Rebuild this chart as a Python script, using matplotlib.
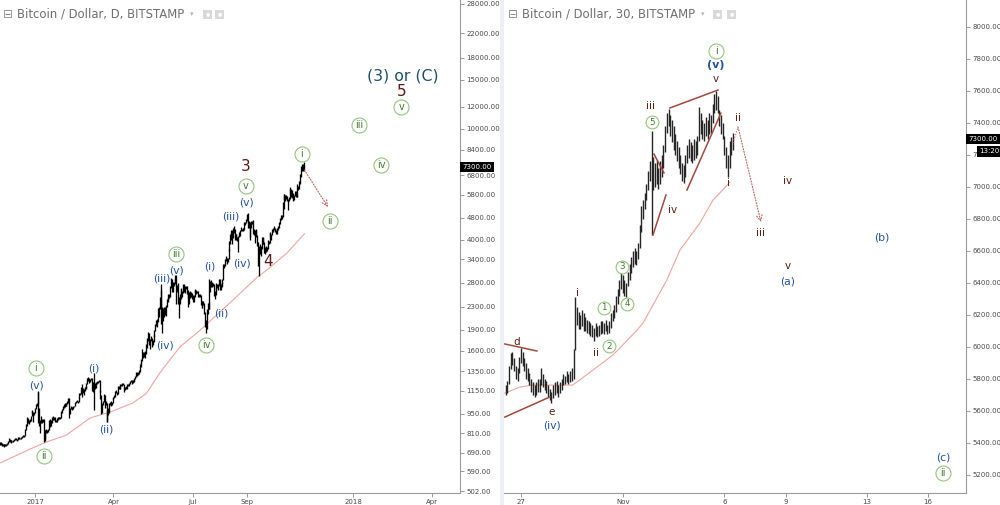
import numpy as np
import pandas as pd
import matplotlib
matplotlib.use("Agg")
import matplotlib.pyplot as plt
import matplotlib.transforms as mtrans
from matplotlib.patches import Rectangle

# ---------------- data: daily BTC/USD (Bitstamp), left panel ----------------
DAILY_START = "2016-11-22"
daily_high = [
    # Nov 22-30 2016
    752, 750, 745, 742, 740, 738, 740, 738, 746,
    # Dec 2016
    756, 780, 772, 768, 765, 762, 768, 772, 775, 776, 772, 780, 785, 782, 780, 786, 792, 795, 795, 800,
    835, 870, 925, 918, 900, 910, 935, 975, 980, 965, 965,
    # Jan 2017
    1000, 1030, 1040, 1150, 1140, 1000, 900, 930, 910, 910, 910, 830, 830, 835, 830, 835, 905, 910, 900, 900,
    925, 935, 925, 925, 900, 920, 925, 925, 925, 925, 970,
    # Feb
    990, 1010, 1030, 1040, 1035, 1040, 1055, 1080, 1080, 1000, 1010, 1005, 1005, 1015, 1015, 1045, 1060, 1065, 1060, 1090,
    1125, 1130, 1185, 1210, 1175, 1165, 1185, 1200,
    # Mar
    1225, 1275, 1285, 1280, 1270, 1280, 1275, 1240, 1210, 1330, 1230, 1235, 1245, 1250, 1255, 1260, 1155, 1105, 1040, 1060,
    1120, 1110, 1055, 1040, 980, 1000, 1040, 1050, 1055, 1045, 1080,
    # Apr
    1095, 1105, 1150, 1160, 1140, 1200, 1200, 1195, 1215, 1215, 1225, 1225, 1215, 1190, 1195, 1190, 1210, 1220, 1230, 1250,
    1260, 1255, 1255, 1255, 1275, 1300, 1345, 1345, 1340, 1360,
    # May
    1430, 1460, 1490, 1620, 1580, 1580, 1600, 1690, 1740, 1770, 1860, 1850, 1760, 1800, 1770, 1750, 1840, 1900, 1990, 2060,
    2080, 2280, 2290, 2500, 2770, 2650, 2300, 2280, 2300, 2300, 2340,
    # Jun
    2450, 2500, 2560, 2560, 2720, 2920, 2890, 2820, 2830, 2900, 3000, 2990, 2750, 2790, 2500, 2550, 2670, 2680, 2620, 2770,
    2780, 2720, 2740, 2720, 2640, 2600, 2600, 2620, 2600, 2570,
    # Jul
    2530, 2530, 2630, 2660, 2650, 2620, 2620, 2560, 2560, 2540, 2420, 2420, 2420, 2370, 2200, 2060, 2260, 2380, 2400, 2900,
    2840, 2860, 2830, 2800, 2780, 2620, 2680, 2800, 2780, 2780, 2880,
    # Aug
    2900, 2780, 2820, 2880, 3270, 3280, 3420, 3500, 3430, 3450, 3700, 3970, 4200, 4330, 4350, 4400, 4480, 4380, 4200, 4200,
    4100, 4130, 4250, 4350, 4450, 4380, 4400, 4400, 4630, 4640, 4750,
    # Sep
    4940, 4980, 4680, 4620, 4480, 4660, 4680, 4700, 4380, 4320, 4320, 4380, 4150, 3920, 3800, 3870, 3800, 4100, 4100, 4050,
    3920, 3780, 3800, 3780, 3980, 3960, 4220, 4250, 4200, 4360,
    # Oct
    4400, 4460, 4420, 4340, 4360, 4420, 4460, 4620, 4800, 4900, 4900, 5440, 5850, 5850, 5800, 5800, 5760, 5600, 5700, 6100,
    6180, 6080, 6040, 5900, 5800, 6000, 5990, 5850, 6330, 6250, 6470,
    # Nov 1-6
    6880, 7350, 7490, 7500, 7600, 7340,
]
daily_low = [
    735, 732, 728, 730, 725, 726, 730, 728, 732,
    742, 752, 755, 758, 748, 752, 755, 760, 765, 768, 762, 765, 772, 770, 770, 774, 780, 786, 785, 788,
    795, 830, 858, 880, 870, 888, 895, 930, 955, 890, 940,
    955, 990, 1015, 1030, 880, 860, 810, 880, 880, 885, 750, 760, 770, 810, 810, 815, 828, 855, 860, 880,
    890, 900, 905, 885, 885, 890, 905, 915, 910, 910, 915,
    960, 980, 1000, 1005, 1010, 1015, 1030, 1040, 920, 950, 990, 990, 980, 990, 1005, 1010, 1035, 1050, 1040, 1045,
    1080, 1105, 1120, 1090, 1125, 1105, 1150, 1170,
    1180, 1215, 1250, 1230, 1235, 1255, 1150, 1140, 1150, 980, 1170, 1180, 1220, 1225, 1240, 1140, 1070, 950, 960, 1020,
    1050, 1000, 1020, 890, 890, 940, 960, 1020, 1015, 1020, 1035,
    1070, 1080, 1090, 1130, 1110, 1120, 1170, 1170, 1170, 1195, 1200, 1205, 1140, 1155, 1170, 1170, 1175, 1195, 1200, 1215,
    1235, 1215, 1225, 1235, 1245, 1270, 1285, 1300, 1305, 1320,
    1340, 1400, 1440, 1470, 1500, 1520, 1510, 1560, 1640, 1700, 1740, 1680, 1620, 1730, 1650, 1670, 1720, 1790, 1880, 1960,
    1950, 2030, 2120, 2250, 2250, 2000, 1850, 2050, 2120, 2150, 2130,
    2300, 2400, 2420, 2470, 2500, 2680, 2600, 2600, 2720, 2770, 2850, 2350, 2600, 2350, 2100, 2350, 2450, 2500, 2500, 2580,
    2600, 2580, 2660, 2550, 2480, 2300, 2350, 2480, 2500, 2460,
    2390, 2400, 2500, 2570, 2560, 2570, 2490, 2490, 2490, 2330, 2280, 2270, 2330, 2160, 1950, 1850, 1920, 2170, 2260, 2250,
    2600, 2700, 2700, 2720, 2520, 2450, 2530, 2650, 2680, 2640, 2730,
    2650, 2650, 2700, 2770, 2860, 3170, 3220, 3350, 3260, 3320, 3400, 3640, 3850, 4000, 3850, 4050, 4230, 4000, 4000, 4050,
    3960, 3600, 4080, 4130, 4300, 4300, 4320, 4300, 4350, 4500, 4590,
    4680, 4400, 4420, 4100, 4000, 4400, 4560, 4180, 4150, 3900, 4130, 4100, 3800, 3220, 2970, 3550, 3500, 3700, 3850, 3860,
    3580, 3560, 3600, 3630, 3700, 3870, 3900, 4110, 4000, 4150,
    4260, 4350, 4250, 4180, 4180, 4300, 4350, 4400, 4560, 4720, 4730, 4820, 5150, 5550, 5500, 5600, 5500, 5100, 5520, 5600,
    5900, 5700, 5640, 5500, 5550, 5720, 5700, 5700, 5700, 6050, 6100,
    6310, 6700, 7040, 7025, 7300, 7060,
]

# 100-period moving average
ma_daily_dates = ["2016-11-22", "2016-12-29", "2017-01-14", "2017-02-06", "2017-03-05", "2017-03-28",
                  "2017-04-23", "2017-05-09", "2017-05-24", "2017-06-16", "2017-07-09", "2017-08-16",
                  "2017-09-13", "2017-09-24", "2017-10-17", "2017-11-06"]
ma_daily_vals = [633, 716, 752, 797, 917, 964, 1038, 1127, 1330, 1648, 1890, 2430, 2940, 3115, 3584, 4200]

# ---------------- data: 2-hour bars, right panel ----------------
INTRA_START = "2017-10-26 06:00"
intra_high = [
    # Oct 26 06-22
    5760, 5790, 5880, 5960, 5970, 5930, 5880, 5870, 5940,
    # Oct 27
    5995, 5970, 5930, 5900, 5870, 5840, 5800, 5780, 5760, 5780, 5800, 5800,
    # Oct 28
    5870, 5830, 5800, 5790, 5760, 5740, 5720, 5760, 5780, 5790, 5760, 5780,
    # Oct 29
    5800, 5830, 5820, 5850, 5830, 5850, 5870, 5990, 6310, 6250, 6220, 6200,
    # Oct 30
    6230, 6210, 6190, 6170, 6160, 6150, 6140, 6120, 6150, 6130, 6140, 6160,
    # Oct 31
    6160, 6150, 6170, 6140, 6160, 6210, 6230, 6260, 6320, 6360, 6420, 6460,
    # Nov 1
    6450, 6420, 6400, 6470, 6520, 6560, 6600, 6620, 6600, 6650, 6760, 6880,
    # Nov 2
    6920, 6960, 7020, 7100, 7160, 7350, 7190, 7150, 7170, 7120, 7160, 7200,
    # Nov 3
    7260, 7380, 7460, 7490, 7450, 7420, 7380, 7330, 7290, 7250, 7200, 7150,
    # Nov 4
    7140, 7200, 7260, 7300, 7280, 7260, 7300, 7290, 7320, 7500, 7460, 7420,
    # Nov 5
    7400, 7440, 7420, 7460, 7450, 7520, 7580, 7600, 7570, 7480, 7450, 7400,
    # Nov 6
    7320, 7250, 7200, 7290, 7310, 7340,
]
intra_low = [
    5700, 5710, 5770, 5860, 5890, 5850, 5800, 5790, 5840,
    5900, 5880, 5850, 5800, 5790, 5760, 5720, 5700, 5690, 5700, 5720, 5720,
    5760, 5750, 5730, 5710, 5690, 5670, 5650, 5680, 5700, 5710, 5690, 5710,
    5730, 5760, 5770, 5780, 5770, 5780, 5790, 5800, 5980, 6140, 6110, 6110,
    6130, 6100, 6100, 6090, 6080, 6070, 6060, 6040, 6070, 6060, 6070, 6080,
    6090, 6080, 6100, 6080, 6090, 6120, 6160, 6180, 6220, 6270, 6320, 6360,
    6340, 6320, 6310, 6380, 6420, 6460, 6500, 6520, 6510, 6550, 6620, 6720,
    6800, 6860, 6920, 6980, 7040, 6700, 6980, 7000, 7020, 6990, 7020, 7060,
    7120, 7220, 7340, 7380, 7320, 7280, 7230, 7200, 7160, 7120, 7080, 7040,
    7025, 7060, 7150, 7180, 7160, 7150, 7170, 7180, 7200, 7290, 7330, 7300,
    7290, 7320, 7300, 7330, 7340, 7400, 7460, 7480, 7460, 7380, 7330, 7300,
    7200, 7120, 7060, 7120, 7200, 7230,
]

ma_intra_times = ["2017-10-26 05:00", "2017-10-26 23:00", "2017-10-27 14:00", "2017-10-28 10:00",
                  "2017-10-29 13:00", "2017-10-30 13:00", "2017-10-31 12:30", "2017-11-01 17:00",
                  "2017-11-02 00:00", "2017-11-03 04:00", "2017-11-03 19:30", "2017-11-04 19:00",
                  "2017-11-05 10:30", "2017-11-05 18:30", "2017-11-06 06:30"]
ma_intra_vals = [5712, 5750, 5762, 5762, 5762, 5856, 5950, 6106, 6150, 6419, 6606, 6775, 6919, 6963, 7031]

LAST_PRICE = 7300.00
BAR_TIMER = "13:20"

left_yticks = [28000, 22000, 18000, 15000, 12000, 10000, 8400, 6800, 5800, 4800, 4000, 3400,
               2800, 2300, 1900, 1600, 1350, 1150, 950, 810, 690, 590, 502]
right_yticks = [8000, 7800, 7600, 7400, 7200, 7000, 6800, 6600, 6400, 6200, 6000, 5800, 5600, 5400, 5200]
left_xticks = ["2017-01-01", "2017-04-01", "2017-07-01", "2017-09-01", "2018-01-01", "2018-04-01"]
left_xlabels = ["2017", "Apr", "Jul", "Sep", "2018", "Apr"]
right_xticks = ["2017-10-27", "2017-11-01", "2017-11-06", "2017-11-09", "2017-11-13", "2017-11-16"]
right_xlabels = ["27", "Nov", "6", "9", "13", "16"]

# ---------------- wave annotations ----------------
# style keys: B blue, G green circled, R dark red big digit, T teal title, W brown wave
left_labels = [
    ("2018-02-27", 15400, "(3) or (C)", "T"),
    ("2018-02-26", 13650, "5", "R"),
    ("2018-02-25", 12000, "v", "G"),
    ("2018-01-08", 10310, "iii", "G"),
    ("2018-02-02", 7410, "iv", "G"),
    ("2017-11-03", 8115, "i", "G"),
    ("2017-12-05", 4665, "ii", "G"),
    ("2017-08-31", 7347, "3", "R"),
    ("2017-08-31", 6230, "v", "G"),
    ("2017-08-31", 5415, "(v)", "B"),
    ("2017-08-14", 4863, "(iii)", "B"),
    ("2017-09-25", 3352, "4", "R"),
    ("2017-08-26", 3298, "(iv)", "B"),
    ("2017-07-21", 3218, "(i)", "B"),
    ("2017-08-03", 2183, "(ii)", "B"),
    ("2017-06-12", 3553, "iii", "G"),
    ("2017-06-12", 3113, "(v)", "B"),
    ("2017-05-26", 2915, "(iii)", "B"),
    ("2017-05-30", 1676, "(iv)", "B"),
    ("2017-07-16", 1676, "iv", "G"),
    ("2017-01-02", 1386, "i", "G"),
    ("2017-01-03", 1205, "(v)", "B"),
    ("2017-03-09", 1386, "(i)", "B"),
    ("2017-03-24", 837, "(ii)", "B"),
    ("2017-01-11", 670, "ii", "G"),
]
right_labels = [
    ("2017-11-05 14:00", 7850, "i", "G"),
    ("2017-11-05 14:00", 7762, "(v)", "Bb"),
    ("2017-11-05 14:00", 7675, "v", "W"),
    ("2017-11-02 09:20", 7506, "iii", "W"),
    ("2017-11-02 10:30", 7406, "5", "g"),
    ("2017-11-06 16:00", 7431, "ii", "W"),
    ("2017-11-06 04:10", 7025, "i", "W"),
    ("2017-11-09 02:50", 7037, "iv", "W"),
    ("2017-11-03 11:15", 6856, "iv", "W"),
    ("2017-11-07 19:00", 6712, "iii", "W"),
    ("2017-11-13 17:45", 6687, "(b)", "B"),
    ("2017-11-09 02:50", 6506, "v", "W"),
    ("2017-11-09 02:50", 6412, "(a)", "B"),
    ("2017-10-31 23:00", 6500, "3", "g"),
    ("2017-10-29 19:10", 6337, "i", "W"),
    ("2017-10-31 01:50", 6244, "1", "g"),
    ("2017-11-01 05:00", 6269, "4", "g"),
    ("2017-10-31 07:45", 6006, "2", "g"),
    ("2017-10-30 16:30", 5962, "ii", "W"),
    ("2017-10-26 19:15", 6031, "d", "W"),
    ("2017-10-28 12:30", 5594, "e", "W"),
    ("2017-10-28 12:30", 5512, "(iv)", "B"),
    ("2017-11-16 17:45", 5312, "(c)", "B"),
    ("2017-11-16 17:45", 5212, "ii", "G"),
]
# trend lines drawn by the analyst (start, end)
right_trendlines = [
    (("2017-10-26 05:00", 6019), ("2017-10-27 18:50", 5975)),
    (("2017-10-26 05:00", 5562), ("2017-10-28 10:10", 5688)),
    (("2017-11-02 12:50", 7206), ("2017-11-03 00:40", 7088)),
    (("2017-11-02 11:40", 6700), ("2017-11-03 03:00", 6950)),
    (("2017-11-03 07:45", 7494), ("2017-11-05 16:20", 7606)),
    (("2017-11-04 03:45", 6981), ("2017-11-05 19:50", 7462)),
]
right_projection = [("2017-11-06 10:00", 7275), ("2017-11-06 16:00", 7375), ("2017-11-07 19:00", 6781)]
left_projection = [("2017-11-06", 7109), ("2017-12-03", 5237)]

# ---------------- styling ----------------
BLUE = "#2152a3"
GREEN_TXT = "#3f7d2a"
GREEN_RING = "#93c47d"
DARKRED = "#5c1616"
TEAL = "#1f5068"
BROWN = "#5a1d12"
TREND = "#a5473a"
MA_COL = "#f4a3a0"
AXIS_COL = "#9a9a9a"
TICK_TXT = "#4a4a4a"

plt.rcParams["font.family"] = ["DejaVu Sans"]

fig = plt.figure(figsize=(10, 5.05), dpi=100)
fig.patch.set_facecolor("white")
axL = fig.add_axes([0.0, 12 / 505, 0.460, 493 / 505])
axR = fig.add_axes([0.504, 12 / 505, 0.462, 493 / 505])

# separator strip between panels
fig.patches.append(Rectangle((0.4995, 0), 0.0045, 1, transform=fig.transFigure,
                             facecolor="#eceff3", edgecolor="none", zorder=-5))


def style_axis(ax, yt, xt, xl, fmt):
    for s in ("top", "left"):
        ax.spines[s].set_visible(False)
    for s in ("right", "bottom"):
        ax.spines[s].set_color(AXIS_COL)
        ax.spines[s].set_linewidth(0.8)
    ax.yaxis.tick_right()
    ax.set_yticks(yt)
    ax.set_yticklabels([fmt % v for v in yt])
    ax.yaxis.set_minor_locator(matplotlib.ticker.NullLocator())
    ax.set_xticks(pd.to_datetime(xt))
    ax.set_xticklabels(xl)
    ax.tick_params(axis="both", which="major", labelsize=5, colors=AXIS_COL, labelcolor=TICK_TXT,
                   length=3, width=0.7, pad=1.5)
    ax.set_facecolor("white")


def circled(ax, x, y, txt, big=True):
    ms = 10.8 if big else 9.2
    fs = 7 if big else 6.3
    ax.plot([x], [y], marker="o", ms=ms, mfc="white", mec=GREEN_RING, mew=0.8, zorder=6)
    ax.text(x, y, txt, ha="center", va="center", color=GREEN_TXT, fontsize=fs, zorder=7)


def put_labels(ax, labels):
    for d, p, txt, st in labels:
        x = pd.Timestamp(d)
        if st == "G":
            circled(ax, x, p, txt, True)
        elif st == "g":
            circled(ax, x, p, txt, False)
        elif st == "B":
            ax.text(x, p, txt, ha="center", va="center", color=BLUE, fontsize=7.8, zorder=7)
        elif st == "Bb":
            ax.text(x, p, txt, ha="center", va="center", color=BLUE, fontsize=8, fontweight="bold", zorder=7)
        elif st == "R":
            ax.text(x, p, txt, ha="center", va="center", color=DARKRED, fontsize=11, zorder=7)
        elif st == "T":
            ax.text(x, p, txt, ha="center", va="center", color=TEAL, fontsize=11.3, zorder=7)
        elif st == "W":
            ax.text(x, p, txt, ha="center", va="center", color=BROWN, fontsize=7.5, zorder=7)


# ----- left panel (daily, log) -----
d_dates = pd.date_range(DAILY_START, periods=len(daily_high), freq="D")
axL.vlines(d_dates, daily_low, daily_high, colors="black", lw=0.95, zorder=3)
axL.plot(pd.to_datetime(ma_daily_dates), ma_daily_vals, color=MA_COL, lw=0.8, zorder=2)
axL.set_yscale("log")
axL.set_ylim(494, 28940)
axL.set_xlim(pd.Timestamp("2016-11-21 20:40"), pd.Timestamp("2018-05-03 09:20"))
style_axis(axL, left_yticks, left_xticks, left_xlabels, "%.2f")
put_labels(axL, left_labels)
(ls, lp), (le, lq) = left_projection
axL.annotate("", xy=(pd.Timestamp(le), lq), xytext=(pd.Timestamp(ls), lp),
             arrowprops=dict(arrowstyle="->", color="#c0635c", lw=0.8, linestyle=(0, (1, 1.5)),
                             shrinkA=0, shrinkB=0), zorder=5)

# ----- right panel (2-hour bars, linear) -----
i_dates = pd.date_range(INTRA_START, periods=len(intra_high), freq="2h")
axR.vlines(i_dates, intra_low, intra_high, colors="#262626", lw=1.0, zorder=3)
axR.plot(pd.to_datetime(ma_intra_times), ma_intra_vals, color=MA_COL, lw=0.8, zorder=2)
axR.set_ylim(5087.5, 8168.75)
axR.set_xlim(pd.Timestamp("2017-10-26 04:00"), pd.Timestamp("2017-11-17 20:48"))
style_axis(axR, right_yticks, right_xticks, right_xlabels, "%.2f")
for (t0, p0), (t1, p1) in right_trendlines:
    axR.plot([pd.Timestamp(t0), pd.Timestamp(t1)], [p0, p1], color=TREND, lw=1.1, zorder=4)
put_labels(axR, right_labels)
pts = [(pd.Timestamp(t), p) for t, p in right_projection]
axR.plot([pts[0][0], pts[1][0]], [pts[0][1], pts[1][1]], color="#c0635c", lw=0.8,
         linestyle=(0, (1, 1.5)), zorder=5)
axR.annotate("", xy=pts[2], xytext=pts[1],
             arrowprops=dict(arrowstyle="->", color="#c0635c", lw=0.8, linestyle=(0, (1, 1.5)),
                             shrinkA=0, shrinkB=0), zorder=5)

# ----- last price boxes -----
for ax in (axL, axR):
    tr = mtrans.blended_transform_factory(ax.transAxes, ax.transData)
    ax.text(1.0, LAST_PRICE, "%.2f" % LAST_PRICE, transform=tr + mtrans.ScaledTranslation(2.5 / 100, 0, fig.dpi_scale_trans),
            ha="left", va="center", fontsize=5, color="white", zorder=20, clip_on=False,
            bbox=dict(boxstyle="square,pad=0.3", fc="black", ec="none"))
trR = mtrans.blended_transform_factory(axR.transAxes, axR.transData)
axR.text(1.0, 7222, BAR_TIMER, transform=trR + mtrans.ScaledTranslation(13.5 / 100, 0, fig.dpi_scale_trans),
         ha="left", va="center", fontsize=5, color="white", zorder=20, clip_on=False,
         bbox=dict(boxstyle="square,pad=0.3", fc="black", ec="none"))

# ----- titles -----
def title(x0, text, caret_x, icon_x):
    y = 1 - 14 / 505
    fig.text(x0 / 1000, y, "\u229f", fontsize=8.5, color="#8c8c8c", va="center", ha="left")
    fig.text((x0 + 14) / 1000, y, text, fontsize=8.4, color="#6f6f6f", va="center", ha="left")
    fig.text(caret_x / 1000, y, "\u25be", fontsize=5, color="#b5b5b5", va="center", ha="left")
    for ix in icon_x:
        fig.patches.append(Rectangle((ix / 1000, 1 - 19 / 505), 9 / 1000, 9 / 505, transform=fig.transFigure,
                                     facecolor="#d9d9d9", edgecolor="none"))
        fig.text((ix + 4.5) / 1000, y, "\u25cf", fontsize=3.5, color="white", va="center", ha="center")


title(3, "Bitcoin / Dollar, D, BITSTAMP", 190, [203, 215])
title(508, "Bitcoin / Dollar, 30, BITSTAMP", 701, [713, 727])

fig.savefig("out.png", dpi=100, facecolor="white")
